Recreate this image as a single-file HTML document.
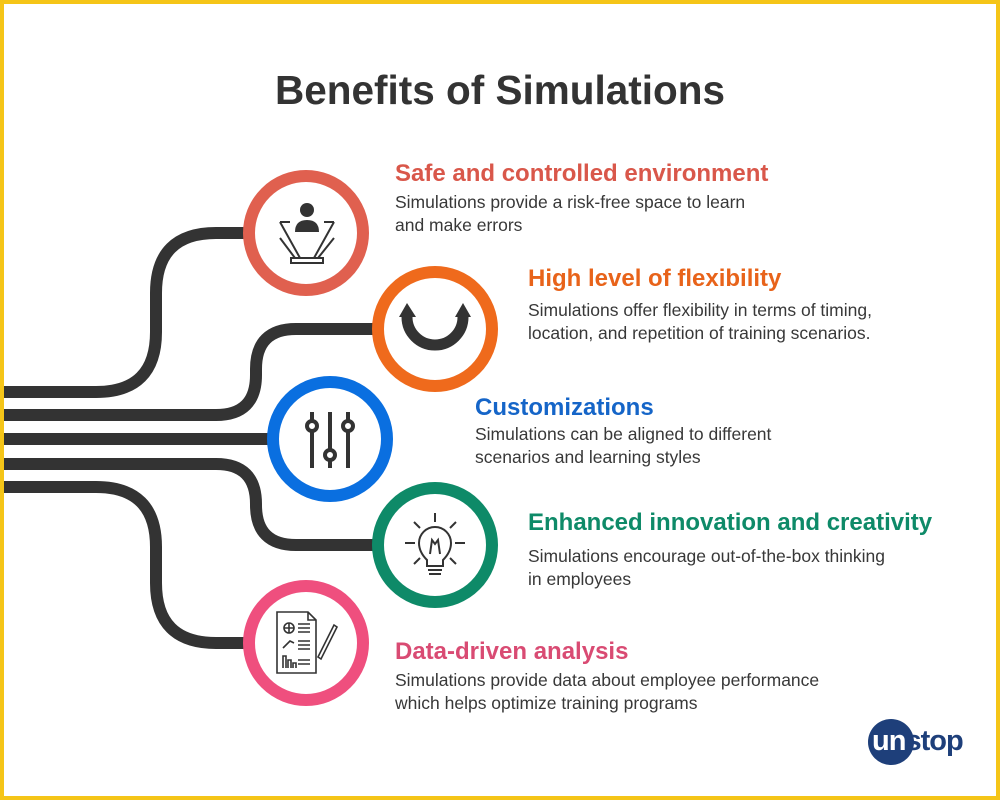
<!DOCTYPE html>
<html><head><meta charset="utf-8"><style>
html,body{margin:0;padding:0}
body{width:1000px;height:800px;position:relative;overflow:hidden;background:#fff;font-family:"Liberation Sans",sans-serif}
.frame{position:absolute;left:0;top:0;width:992px;height:792px;border:4px solid #f5c518}
.t{position:absolute;white-space:nowrap}
h1{position:absolute;left:0;width:1000px;top:67px;margin:0;text-align:center;font-size:40.5px;font-weight:bold;color:#333}
.h{font-size:24px;font-weight:bold}
.b{font-size:17.5px;color:#383838;line-height:23px}
</style></head><body>
<div class="frame"></div>
<h1>Benefits of Simulations</h1>
<svg width="1000" height="800" style="position:absolute;left:0;top:0">
<g fill="none" stroke="#333" stroke-width="12">
<path d="M4 392 H96 Q156 392 156 332 V293 Q156 233 216 233 H250"/>
<path d="M4 415 H216 Q256 415 256 375 V369 Q256 329 296 329 H380"/>
<path d="M4 439 H272"/>
<path d="M4 464 H216 Q256 464 256 504 V505 Q256 545 296 545 H380"/>
<path d="M4 487 H96 Q156 487 156 547 V583 Q156 643 216 643 H250"/>
</g>
<g fill="#fff" stroke-width="12">
<circle cx="306" cy="233" r="57" stroke="#e0604f"/>
<circle cx="435" cy="329" r="57" stroke="#ef6a1c"/>
<circle cx="330" cy="439" r="57" stroke="#0a6fe0"/>
<circle cx="435" cy="545" r="57" stroke="#0e8a68"/>
<circle cx="306" cy="643" r="57" stroke="#ef4f7e"/>
</g>
<g stroke="#333" stroke-width="2" fill="none">
<path d="M280 222 L300 258 M334 222 L314 258 M280 222 H290 M324 222 H334 M280 238 L295 258 M334 238 L318 258"/>
<rect x="291" y="258" width="32" height="5"/>
</g>
<circle cx="307" cy="210" r="7" fill="#333"/>
<path d="M295 232 Q295 220 307 220 Q319 220 319 232 Z" fill="#333"/>
<path d="M407 317 A28 28 0 0 0 463 317" fill="none" stroke="#333" stroke-width="11"/>
<path d="M399 317 L407 303 L416 317 Z M455 317 L463 303 L471 317 Z" fill="#333"/>
<g stroke="#333" stroke-width="4" fill="#fff">
<path d="M312 412 V468 M330 412 V468 M348 412 V468"/>
<circle cx="312" cy="426" r="5"/><circle cx="330" cy="455" r="5"/><circle cx="348" cy="426" r="5"/>
</g>
<g stroke="#333" stroke-width="2" fill="none">
<path d="M435 513 V522 M405 543 H415 M455 543 H465 M414 522 L420 528 M456 522 L450 528 M414 564 L420 558 M456 564 L450 558"/>
<path d="M427 566 V560 Q419 552 419 543 A16 16 0 0 1 451 543 Q451 552 443 560 V566 Z"/>
<path d="M428 570 H442 M429 574 H441 M430 554 L432 540 L435 544 L438 540 L440 554"/>
</g>
<g stroke="#333" stroke-width="1.6" fill="none">
<path d="M277 612 H308 L316 620 V673 H277 Z M308 612 V620 H316"/>
<circle cx="289" cy="628" r="5"/><path d="M284 628 H294 M289 623 V633"/>
<path d="M298 624 H310 M298 628 H310 M298 632 H310 M298 641 H310 M298 645 H310 M298 649 H310 M298 660 H310 M298 664 H310"/>
<path d="M283 648 L290 641 L294 643"/>
<path d="M283 668 V656 H286 V668 M288 668 V660 H291 V668 M293 668 V663 H296 V668"/>
<path d="M318 657 L334 625 L337 627 L321 659 Z"/>
</g>
</svg>
<div class="t h" style="left:395px;top:160px;color:#d9574a">Safe and controlled environment</div>
<div class="t b" style="left:395px;top:191px">Simulations provide a risk-free space to learn<br>and make errors</div>
<div class="t h" style="left:528px;top:265px;color:#e8631a">High level of flexibility</div>
<div class="t b" style="left:528px;top:299px">Simulations offer flexibility in terms of timing,<br>location, and repetition of training scenarios.</div>
<div class="t h" style="left:475px;top:394px;color:#1565c8">Customizations</div>
<div class="t b" style="left:475px;top:423px">Simulations can be aligned to different<br>scenarios and learning styles</div>
<div class="t h" style="left:528px;top:509px;color:#0e8a68">Enhanced innovation and creativity</div>
<div class="t b" style="left:528px;top:545px">Simulations encourage out-of-the-box thinking<br>in employees</div>
<div class="t h" style="left:395px;top:638px;color:#d94b73">Data-driven analysis</div>
<div class="t b" style="left:395px;top:669px">Simulations provide data about employee performance<br>which helps optimize training programs</div>
<div style="position:absolute;left:868px;top:719px;width:46px;height:46px;border-radius:50%;background:#1e3f7a"></div>
<div class="t" style="left:872px;top:725px;font-size:29px;font-weight:bold;color:#fff;letter-spacing:-1px">un<span style="color:#1e3f7a">stop</span></div>
</body></html>
